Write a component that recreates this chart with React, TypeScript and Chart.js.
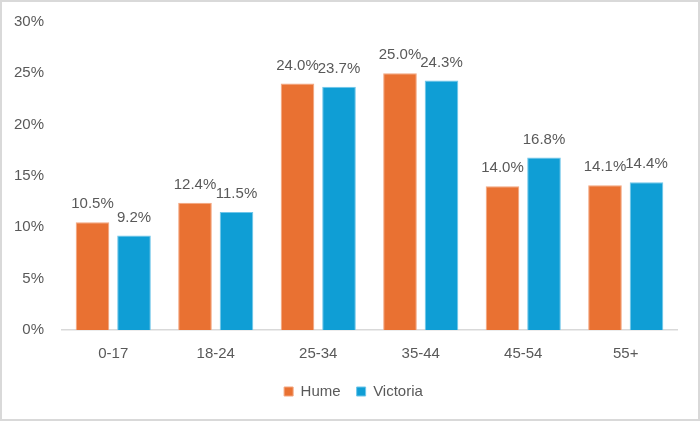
import React, { useEffect, useRef } from "react";
import { Chart, registerables } from "chart.js";

Chart.register(...registerables);

const categories = ["0-17", "18-24", "25-34", "35-44", "45-54", "55+"];
const humeValues = [10.5, 12.4, 24.0, 25.0, 14.0, 14.1];
const victoriaValues = [9.2, 11.5, 23.7, 24.3, 16.8, 14.4];
const yTicks = [0, 5, 10, 15, 20, 25, 30];

const FONT = "'Liberation Sans', Arial, sans-serif";
const TEXT = "#595959";

const dataLabels = {
  id: "dataLabels",
  afterLayout(chart: any) {
    if (chart.legend) {
      chart.legend.left += 14;
      chart.legend.right += 14;
    }
  },
  afterDatasetsDraw(chart: any) {
    const ctx = chart.ctx;
    ctx.save();
    ctx.font = `15px ${FONT}`;
    ctx.fillStyle = TEXT;
    ctx.textAlign = "center";
    ctx.textBaseline = "alphabetic";
    chart.data.datasets.forEach((ds: any, i: number) => {
      const meta = chart.getDatasetMeta(i);
      meta.data.forEach((el: any, j: number) => {
        ctx.fillText(ds.data[j].toFixed(1) + "%", el.x, el.y - 14);
      });
    });
    ctx.restore();
  },
};

export default function App() {
  const ref = useRef<HTMLCanvasElement>(null);
  useEffect(() => {
    if (!ref.current) return;
    const chart = new Chart(ref.current, {
      type: "bar",
      data: {
        labels: categories,
        datasets: [
          { label: "Hume", data: humeValues, backgroundColor: "#E97132", borderColor: "#F3A57E", borderWidth: 1, categoryPercentage: 0.81, barPercentage: 0.81 },
          { label: "Victoria", data: victoriaValues, backgroundColor: "#0F9ED5", borderColor: "#6FC6EA", borderWidth: 1, categoryPercentage: 0.81, barPercentage: 0.81 },
        ],
      },
      options: {
        animation: false,
        responsive: true,
        maintainAspectRatio: false,
        layout: { padding: { top: 20, right: 21, bottom: 10, left: 0 } },
        plugins: {
          legend: { position: "bottom", labels: { boxWidth: 9, boxHeight: 9, padding: 16, color: TEXT, font: { family: FONT, size: 15 } } },
          tooltip: { enabled: false },
        },
        scales: {
          x: {
            afterFit: (s: any) => { s.height -= 10; },
            grid: { display: false, drawTicks: false },
            border: { display: true, color: "#D9D9D9", width: 1.5 },
            ticks: { color: TEXT, font: { family: FONT, size: 15 }, padding: 15 },
          },
          y: {
            min: 0, max: 30,
            afterFit: (s: any) => { s.width = 60; s.paddingTop = 0; },
            afterBuildTicks: (s: any) => { s.ticks = yTicks.map((v) => ({ value: v })); },
            grid: { display: false, drawTicks: false },
            border: { display: false },
            ticks: { color: TEXT, font: { family: FONT, size: 15 }, padding: 18, callback: (v: any) => v + "%" },
          },
        },
      },
      plugins: [dataLabels],
    });
    return () => chart.destroy();
  }, []);
  return (
    <div style={{ position: "fixed", left: 0, top: 0, width: 700, height: 421, boxSizing: "border-box", border: "2px solid #D9D9D9", background: "#fff" }}>
      <div style={{ position: "relative", width: "100%", height: "100%" }}>
        <canvas ref={ref} />
      </div>
    </div>
  );
}
